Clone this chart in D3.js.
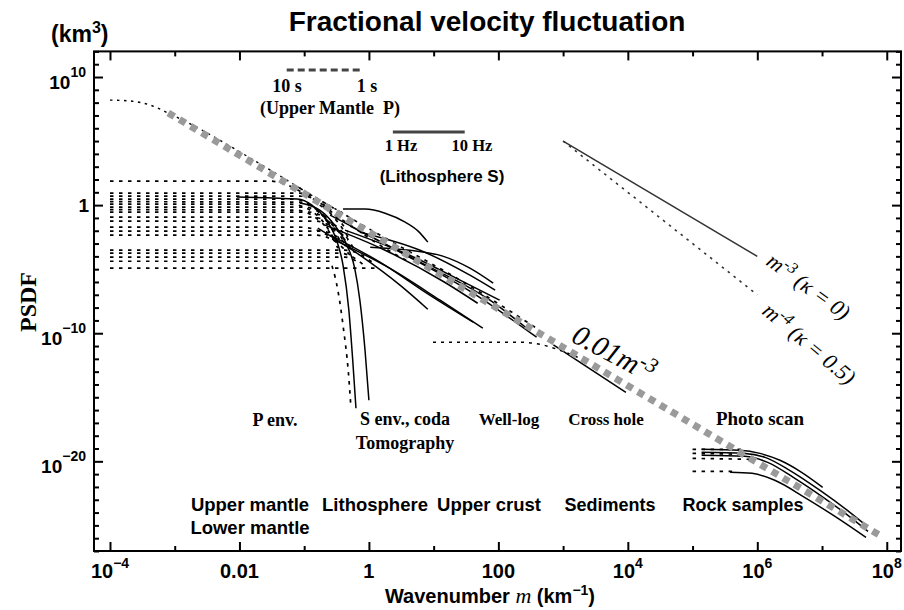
<!DOCTYPE html>
<html>
<head>
<meta charset="utf-8">
<script src="https://cdn.jsdelivr.net/npm/d3@7/dist/d3.min.js"></script>
<style>
body { margin: 0; background: #fff; }
</style>
</head>
<body>
<div id="canvas"></div>
<script>
"use strict"

// CONFIGURATION VARIABLES

let svgWidth = 904;
let svgHeight = 610;
let plotLeft = 94;
let plotRight = 901;
let plotTop = 51.4;
let plotBottom = 551;

let sans = "'Liberation Sans', Arial, sans-serif";
let serif = "'Liberation Serif', 'Times New Roman', serif";


// DATA  (every point is [log10 m, log10 PSDF])

let xMajor = [-4, -2, 0, 2, 4, 6, 8];
let xMinor = [-3, -1, 1, 3, 5, 7];
let xTickLabels = [["10", "\u22124"], ["0.01", ""], ["1", ""], ["100", ""], ["10", "4"], ["10", "6"], ["10", "8"]];
let yMajor = [10, 0, -10, -20];
let yTickLabels = [["10", "10"], ["1", ""], ["10", "\u221210"], ["10", "\u221220"]];

// 0.01 m^-3 reference (grey)
let grayLine = [[-3.1, 7.2], [7.9, -25.8]];

// global mantle spectrum (dotted, top left)
let mantleCurve = [[-4, 8.2], [-3.69, 8.13], [-3.38, 7.81], [-3.07, 7.11], [-2.61, 5.94],
    [-1.99, 4.14], [-1.37, 2.27], [-0.76, 0.39], [-0.37, -0.70]];

// P envelope / lithosphere dotted spectra
let dottedLitho = [
    [[-4, 1.88], [-1.53, 1.88], [-1.30, 1.64], [-0.91, 0.63], [-0.53, -0.55]],
    [[-4, 0.94], [-1.07, 0.94], [-0.79, 0.39], [-0.53, -0.78], [-0.32, -2.11]],
    [[-4, 0.70], [-0.99, 0.70], [-0.73, 0.0], [-0.48, -1.33], [-0.29, -2.73]],
    [[-4, 0.47], [-1.14, 0.47], [-0.88, -0.08], [-0.66, -1.17], [-0.51, -2.42]],
    [[-4, 0.27], [-1.07, 0.23], [-0.79, -0.39], [-0.57, -1.64], [-0.42, -3.05]],
    [[-4, 0.08], [-1.22, 0.08], [-0.91, -0.39], [-0.68, -1.48], [-0.53, -2.73]],
    [[-4, -0.16], [-0.99, -0.16], [-0.73, -0.70], [-0.51, -1.80], [-0.36, -3.20]],
    [[-4, -0.35], [-1.14, -0.39], [-0.86, -0.86], [-0.63, -1.95], [-0.48, -3.36]],
    [[-4, -0.55], [-0.91, -0.55], [-0.68, -1.02], [-0.45, -2.19], [-0.26, -3.52]],
    [[-4, -0.94], [-0.91, -0.94], [-0.60, -1.33], [-0.37, -2.34], [-0.22, -3.52]],
    [[-4, -1.25], [-0.83, -1.25], [-0.56, -1.72], [-0.32, -2.73]],
    [[-4, -1.72], [-1.07, -1.72], [-0.76, -2.03], [-0.48, -2.97]],
    [[-4, -2.03], [-0.76, -2.03], [-0.48, -2.50], [-0.26, -3.52]],
    [[-4, -2.34], [-0.83, -2.34], [-0.53, -2.81], [-0.29, -3.91]],
    [[-4, -3.52], [-0.37, -3.52], [-0.14, -3.83], [0.05, -4.45]],
    [[-4, -3.75], [-0.45, -3.75], [-0.22, -4.14], [-0.06, -4.77]],
    [[-4, -4.06], [-0.37, -4.06], [-0.17, -4.45]],
    [[-4, -4.38], [-0.60, -4.38], [-0.56, -4.92], [-0.48, -6.64], [-0.39, -9.77], [-0.32, -12.89], [-0.28, -15.63]],
    [[-4, -4.92], [0.09, -4.92]],
    [[-1.07, 1.33], [0.17, -2.34], [1.41, -5.86], [2.64, -9.77]],
    [[-0.76, 0.0], [-0.29, -1.56], [0.17, -3.13], [0.63, -4.45]]
];

// S envelope, coda, tomography spectra (solid)
let solidLitho = [
    [[-2.04, 0.63], [-1.11, 0.47], [-0.88, 0.0], [-0.68, -1.02], [-0.51, -2.58], [-0.40, -4.69], [-0.31, -8.20], [-0.25, -12.11], [-0.20, -15.86]],
    [[-1.07, 0.16], [-0.76, -0.39], [-0.53, -1.56], [-0.34, -3.13], [-0.22, -4.92], [-0.14, -7.42], [-0.06, -11.33], [0.0, -15.23]],
    [[-0.40, -0.31], [-0.06, -0.31], [0.25, -0.63], [0.56, -1.33], [0.76, -2.03], [0.91, -2.89]],
    [[-0.79, -1.80], [-0.14, -3.91], [0.48, -6.25], [0.91, -8.13]],
    [[-0.60, -2.34], [0.17, -4.45], [0.94, -7.03], [1.61, -9.14]],
    [[-0.53, -2.73], [0.32, -4.92], [1.10, -7.42], [1.76, -9.61]],
    [[-0.37, -1.95], [0.63, -3.91], [1.56, -6.25], [2.02, -7.42]],
    [[-0.60, -0.78], [0.48, -3.67], [1.56, -6.72], [2.59, -10.31]],
    [[-0.29, -1.64], [0.79, -4.45], [1.87, -7.42], [2.44, -9.61]],
    [[0.02, -3.28], [0.63, -3.52], [1.14, -3.98], [1.56, -4.92], [1.92, -6.09]],
    [[-0.14, -2.11], [0.79, -3.52], [1.56, -5.47], [1.95, -6.64]],
    [[-0.68, -1.56], [0.25, -3.52], [1.17, -6.02], [1.68, -7.66]]
];

// well log (dotted) and cross hole (solid)
let wellLog = [[0.99, -10.70], [2.33, -10.70], [2.64, -10.86], [2.95, -11.33], [3.26, -11.95]];
let crossHole = [[2.85, -10.9], [3.97, -14.61]];

// rock samples, photo scan
let dottedRock = [
    [[5.00, -19.06], [5.81, -19.06]],
    [[5.00, -19.38], [5.81, -19.45]],
    [[5.00, -19.77], [5.88, -19.84]],
    [[5.00, -20.78], [5.65, -20.78]]
];
let solidRock = [
    [[5.14, -19.06], [5.73, -19.14], [6.04, -19.38], [6.35, -19.92], [6.66, -20.78], [7.01, -22.03]],
    [[5.14, -19.30], [5.81, -19.38], [6.12, -19.69], [6.50, -20.70], [6.97, -22.27], [7.43, -23.98], [7.68, -25.0]],
    [[5.14, -19.53], [5.81, -19.61], [6.16, -20.08], [6.58, -21.33], [7.04, -22.89], [7.46, -24.45], [7.71, -25.47]],
    [[5.58, -20.86], [5.92, -20.94], [6.27, -21.48], [6.73, -22.81], [7.20, -24.30], [7.68, -25.94]]
];

// slope references m^-3 and m^-4
let slope3 = [[3.0, 5.0], [6.0, -4.0]];
let slope4 = [[3.0, 5.0], [6.0, -7.0]];

// wavenumber ranges of the two bars
let upperMantleBar = [[-1.27, 10.55], [-0.14, 10.55]];
let lithoBar = [[0.37, 5.70], [1.48, 5.70]];


// CREATE SVG

let svg = d3.select("#canvas")
    .append("svg")
    .attr("width", svgWidth)
    .attr("height", svgHeight)
    .style("background", "#fff");


// SCALES

let xScale = d3.scaleLog()
    .domain([Math.pow(10, -4.247), Math.pow(10, 8.22)])
    .range([plotLeft, plotRight]);

let yScale = d3.scaleLog()
    .domain([1e-27, 1e12])
    .range([plotBottom, plotTop]);

let line = d3.line()
    .x(function(d) { return xScale(Math.pow(10, d[0])); })
    .y(function(d) { return yScale(Math.pow(10, d[1])); })
    .curve(d3.curveMonotoneX);

let straight = d3.line()
    .x(function(d) { return xScale(Math.pow(10, d[0])); })
    .y(function(d) { return yScale(Math.pow(10, d[1])); });


// AXES (inward ticks on all four sides)

function ticks(axis, vals, size, tx, ty) {
    let g = svg.append("g")
        .attr("transform", "translate(" + tx + "," + ty + ")")
        .call(axis.tickValues(vals.map(function(v) { return Math.pow(10, v); }))
            .tickSize(-size).tickFormat(""));
    g.select(".domain").remove();
    g.selectAll("line").attr("stroke", "#000").attr("stroke-width", 2);
}

let yMinor = d3.range(-27, 13).filter(function(v) { return yMajor.indexOf(v) < 0; });

ticks(d3.axisBottom(xScale), xMajor, 9, 0, plotBottom);
ticks(d3.axisBottom(xScale), xMinor, 5, 0, plotBottom);
ticks(d3.axisTop(xScale), xMajor, 9, 0, plotTop);
ticks(d3.axisTop(xScale), xMinor, 5, 0, plotTop);
ticks(d3.axisLeft(yScale), yMajor, 9, plotLeft, 0);
ticks(d3.axisLeft(yScale), yMinor, 5, plotLeft, 0);
ticks(d3.axisRight(yScale), yMajor, 9, plotRight, 0);
ticks(d3.axisRight(yScale), yMinor, 5, plotRight, 0);

svg.append("rect")
    .attr("x", plotLeft)
    .attr("y", plotTop)
    .attr("width", plotRight - plotLeft)
    .attr("height", plotBottom - plotTop)
    .attr("fill", "none")
    .attr("stroke", "#000")
    .attr("stroke-width", 2);


// TICK LABELS

xMajor.forEach(function(v, i) {
    let t = svg.append("text")
        .attr("x", xScale(Math.pow(10, v)))
        .attr("y", 578)
        .attr("text-anchor", "middle")
        .style("font-family", sans)
        .style("font-weight", "bold")
        .style("font-size", "20px");
    t.append("tspan").text(xTickLabels[i][0]);
    if (xTickLabels[i][1]) {
        t.append("tspan").attr("dy", -10).style("font-size", "14px").text(xTickLabels[i][1]);
    }
});

yMajor.forEach(function(v, i) {
    let sup = yTickLabels[i][1];
    let t = svg.append("text")
        .attr("x", sup ? 86 : 89)
        .attr("y", yScale(Math.pow(10, v)) + (sup ? 12 : 7))
        .attr("text-anchor", "end")
        .style("font-family", sans)
        .style("font-weight", "bold")
        .style("font-size", "19px");
    t.append("tspan").text(yTickLabels[i][0]);
    if (sup) {
        t.append("tspan").attr("dy", -12).style("font-size", "14px").text(sup);
    }
});


// DATA CURVES

function draw(data, gen, stroke, width, dash) {
    svg.append("g").selectAll("path")
        .data(data)
        .join("path")
        .attr("d", gen)
        .attr("fill", "none")
        .attr("stroke", stroke)
        .attr("stroke-width", width)
        .attr("stroke-dasharray", dash);
}

draw(dottedLitho, line, "#000", 1.7, "3.5,5.5");
draw([mantleCurve], line, "#000", 1.4, "2.5,4.5");
draw(solidLitho, line, "#000", 1.5, null);
draw([wellLog], line, "#000", 1.5, "3,5");
draw([crossHole], straight, "#000", 1.5, null);
draw(dottedRock, line, "#000", 1.7, "3.5,5.5");
draw(solidRock, line, "#000", 1.5, null);
draw([slope3], straight, "#333", 1.5, null);
draw([slope4], straight, "#333", 1.6, "2.5,5");
draw([upperMantleBar], straight, "#444", 3, "7,4");
draw([lithoBar], straight, "#444", 3, null);
draw([grayLine], straight, "#9a9a9a", 7, "7,6");


// ANNOTATIONS

function label(x, y, txt, font, size, weight, style) {
    return svg.append("text")
        .attr("x", x)
        .attr("y", y)
        .attr("text-anchor", "middle")
        .style("font-family", font)
        .style("font-size", size + "px")
        .style("font-weight", weight || "bold")
        .style("font-style", style || "normal")
        .text(txt);
}

label(487, 31, "Fractional velocity fluctuation", sans, 28);

let km = svg.append("text")
    .attr("x", 51).attr("y", 42)
    .style("font-family", sans).style("font-weight", "bold").style("font-size", "23px");
km.append("tspan").text("(km");
km.append("tspan").attr("dy", -9).style("font-size", "16px").text("3");
km.append("tspan").attr("dy", 9).text(")");

svg.append("text")
    .attr("transform", "translate(36,302) rotate(-90)")
    .attr("text-anchor", "middle")
    .style("font-family", serif)
    .style("font-weight", "bold")
    .style("font-size", "24px")
    .text("PSDF");

let xl = svg.append("text")
    .attr("x", 490).attr("y", 603)
    .attr("text-anchor", "middle")
    .style("font-family", sans).style("font-weight", "bold").style("font-size", "20px");
xl.append("tspan").text("Wavenumber ");
xl.append("tspan").style("font-family", serif).style("font-style", "italic").style("font-weight", "normal").style("font-size", "22px").text("m");
xl.append("tspan").text(" (km");
xl.append("tspan").attr("dy", -8).style("font-size", "14px").text("\u22121");
xl.append("tspan").attr("dy", 8).text(")");

label(287, 92, "10 s", serif, 18);
label(367, 92, "1 s", serif, 18);
label(330, 114, "(Upper Mantle  P)", serif, 18).style("white-space", "pre");
label(401, 151, "1 Hz", serif, 16.5);
label(472, 151, "10 Hz", serif, 16.5);
label(442, 182, "(Lithosphere S)", sans, 17);

label(275, 426, "P env.", serif, 18);
label(405, 425, "S env., coda", serif, 18);
label(405, 449, "Tomography", serif, 18);
label(509, 425, "Well-log", serif, 17);
label(606, 425, "Cross hole", serif, 17);
label(760, 425, "Photo scan", serif, 19);

label(250, 511, "Upper mantle", sans, 18.5);
label(250, 534, "Lower mantle", sans, 18.5);
label(375, 511, "Lithosphere", sans, 18.5);
label(489, 511, "Upper crust", sans, 18.5);
label(610, 511, "Sediments", sans, 18);
label(743, 511, "Rock samples", sans, 18);

function rotated(x, y, angle, size, parts) {
    let t = svg.append("text")
        .attr("transform", "translate(" + x + "," + y + ") rotate(" + angle + ")")
        .style("font-family", serif)
        .style("font-style", "italic")
        .style("font-size", size + "px");
    parts.forEach(function(p) {
        let s = t.append("tspan").text(p[0]);
        if (p[1]) s.attr("dy", p[1]);
        if (p[2]) s.style("font-size", p[2] + "px");
    });
}

rotated(765, 264, 36, 22, [["m"], ["-3", -8, 16], [" (\u03ba = 0)", 8]]);
rotated(761, 313, 40, 22, [["m"], ["-4", -8, 16], [" (\u03ba = 0.5)", 8]]);
rotated(570, 341, 28, 29, [["0.01m"], ["-3", -10, 21]]);
</script>
</body>
</html>
